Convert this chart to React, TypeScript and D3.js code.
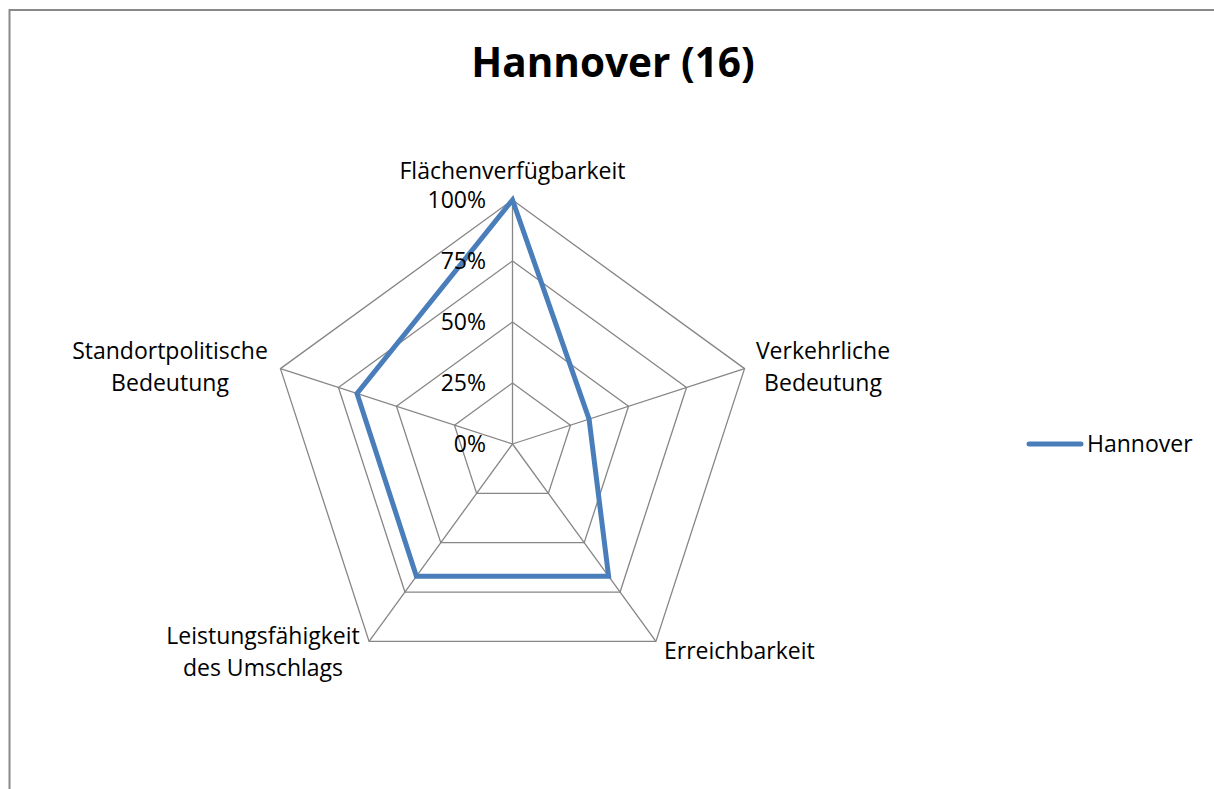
import React from "react";
import * as d3 from "d3";

const categories = [
  "Flächenverfügbarkeit",
  "Verkehrliche Bedeutung",
  "Erreichbarkeit",
  "Leistungsfähigkeit des Umschlags",
  "Standortpolitische Bedeutung",
];
const categoryLines = [
  ["Flächenverfügbarkeit"],
  ["Verkehrliche", "Bedeutung"],
  ["Erreichbarkeit"],
  ["Leistungsfähigkeit", "des Umschlags"],
  ["Standortpolitische", "Bedeutung"],
];
const seriesName = "Hannover";
const values = [1.0, 0.33, 0.67, 0.67, 0.67];
const ticks = [0, 0.25, 0.5, 0.75, 1.0];
const title = "Hannover (16)";

export default function App() {
  const W = 1214, H = 789;
  const cx = 512.5, cy = 444, R = 244;
  const font = "'Open Sans', 'DejaVu Sans', sans-serif";
  const fs = 23;
  const r = d3.scaleLinear().domain([0, 1]).range([0, R]);
  const n = categories.length;
  const angle = (i: number) => (i * 2 * Math.PI) / n;
  const pt = (i: number, v: number): [number, number] => [
    cx + r(v) * Math.sin(angle(i)),
    cy - r(v) * Math.cos(angle(i)),
  ];
  const lineGen = d3.line<[number, number]>().curve(d3.curveLinearClosed);
  const fmt = d3.format(".0%");

  const labelSpecs = [
    { x: cx, y: 179, anchor: "middle" },
    { x: 823, y: 359, anchor: "middle" },
    { x: 664, y: 659, anchor: "start" },
    { x: 263, y: 644, anchor: "middle" },
    { x: 170, y: 359, anchor: "middle" },
  ];

  return (
    <svg width={W} height={H} style={{ position: "absolute", left: 0, top: 0, background: "#fff" }}>
      <rect x={9.5} y={10} width={1300} height={900} fill="#fff" stroke="#898989" strokeWidth={2} />
      <text x={613} y={77} textAnchor="middle" fontFamily={font} fontWeight="bold" fontSize={40.5} fill="#000">
        {title}
      </text>
      {ticks.filter((t) => t > 0).map((t) => (
        <path
          key={t}
          d={lineGen(categories.map((_, i) => pt(i, t))) || ""}
          fill="none"
          stroke="#868686"
          strokeWidth={1.3}
        />
      ))}
      {categories.map((_, i) => {
        const [x, y] = pt(i, 1);
        return <line key={i} x1={cx} y1={cy} x2={x} y2={y} stroke="#868686" strokeWidth={1.3} />;
      })}
      <path
        d={lineGen(values.map((v, i) => pt(i, v))) || ""}
        fill="none"
        stroke="#4a7ebb"
        strokeWidth={5}
        strokeLinejoin="miter"
      />
      {ticks.map((t) => (
        <text
          key={t}
          x={486}
          y={cy - r(t)}
          dy="0.35em"
          textAnchor="end"
          fontFamily={font}
          fontSize={fs}
          fill="#000"
        >
          {fmt(t)}
        </text>
      ))}
      {categoryLines.map((lines, i) => (
        <text
          key={i}
          x={labelSpecs[i].x}
          y={labelSpecs[i].y}
          textAnchor={labelSpecs[i].anchor as any}
          fontFamily={font}
          fontSize={fs}
          fill="#000"
        >
          {lines.map((l, j) => (
            <tspan key={j} x={labelSpecs[i].x} dy={j === 0 ? 0 : 31.5}>
              {l}
            </tspan>
          ))}
        </text>
      ))}
      <line x1={1029} y1={444} x2={1081} y2={444} stroke="#4a7ebb" strokeWidth={5} strokeLinecap="round" />
      <text x={1087} y={444} dy="0.35em" fontFamily={font} fontSize={fs} fill="#000">
        {seriesName}
      </text>
    </svg>
  );
}
